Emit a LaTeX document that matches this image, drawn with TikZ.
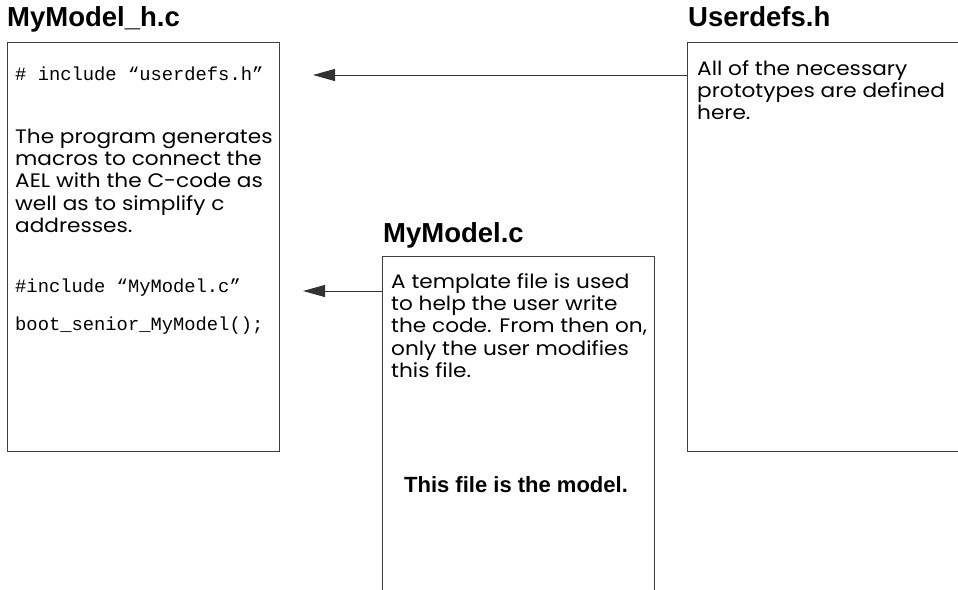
\documentclass[tikz,border=0pt]{standalone}
\usepackage{fontspec}
\setmainfont[FakeStretch=1.11]{Poppins}
\newfontfamily\titlefont{Liberation Sans}
\newfontfamily\codefont{Liberation Mono}
\usetikzlibrary{arrows.meta}

% text helpers: one left-aligned block, baseline on its first line
\newcommand{\txtlines}[1]{\begin{tabular}[t]{@{}l@{}}#1\end{tabular}}

\tikzset{
  filebox/.style={draw=black!75, line width=1pt, anchor=north west, inner sep=0pt},
  title/.style={anchor=base west, inner sep=0pt, font=\titlefont\bfseries\fontsize{27.5}{29}\selectfont},
  body/.style={anchor=base west, inner sep=0pt, font=\fontsize{19.5}{22.4}\selectfont},
  code/.style={anchor=base west, inner sep=0pt, font=\codefont\fontsize{18.8}{20}\selectfont},
  note/.style={anchor=base, inner sep=0pt, font=\titlefont\bfseries\fontsize{22}{24}\selectfont},
  link/.style={draw=black!80, line width=1pt, -{Triangle[length=22pt,width=12pt]}}
}

\begin{document}
\begin{tikzpicture}[x=1pt,y=-1pt]
\useasboundingbox (0,0) rectangle (958,589);
\clip (0,0) rectangle (958,589);

% file boxes
\node[filebox, minimum width=272.5pt, minimum height=409.5pt] (hc) at (6.5,41.5) {};
\node[filebox, minimum width=290pt, minimum height=409.5pt] (ud) at (687,41.5) {};
\node[filebox, minimum width=272.5pt, minimum height=360pt] (mc) at (381.5,256) {};

% titles
\node[title] (thc) at (7,27) {MyModel\_h.c};
\node[title] (tud) at (688,27) {Userdefs.h};
\node[title] (tmc) at (383,242) {MyModel.c};

% MyModel_h.c contents
\node[code] (inc1) at (15,80) {\# include “userdefs.h”};
\node[body] (gen) at (15,143) {\txtlines{The program generates\\macros to connect the\\AEL with the C-code as\\well as to simplify c\\addresses.}};
\node[code] (inc2) at (15,292) {\#include “MyModel.c”};
\node[code] (boot) at (15,330) {boot\_senior\_MyModel();};

% Userdefs.h contents
\node[body] (proto) at (697,75) {\txtlines{All of the necessary\\prototypes are defined\\here.}};

% MyModel.c contents
\node[body] (tmpl) at (391,288) {\txtlines{A template file is used\\to help the user write\\the code. From then on,\\only the user modifies\\this file.}};
\node[note] (model) at (516,492) {This file is the model.};

% include links
\coordinate (tipA) at (313,75);
\coordinate (tipB) at (303,291);
\draw[link] (ud.west |- tipA) -- (tipA);
\draw[link] (mc.west |- tipB) -- (tipB);
\end{tikzpicture}
\end{document}
